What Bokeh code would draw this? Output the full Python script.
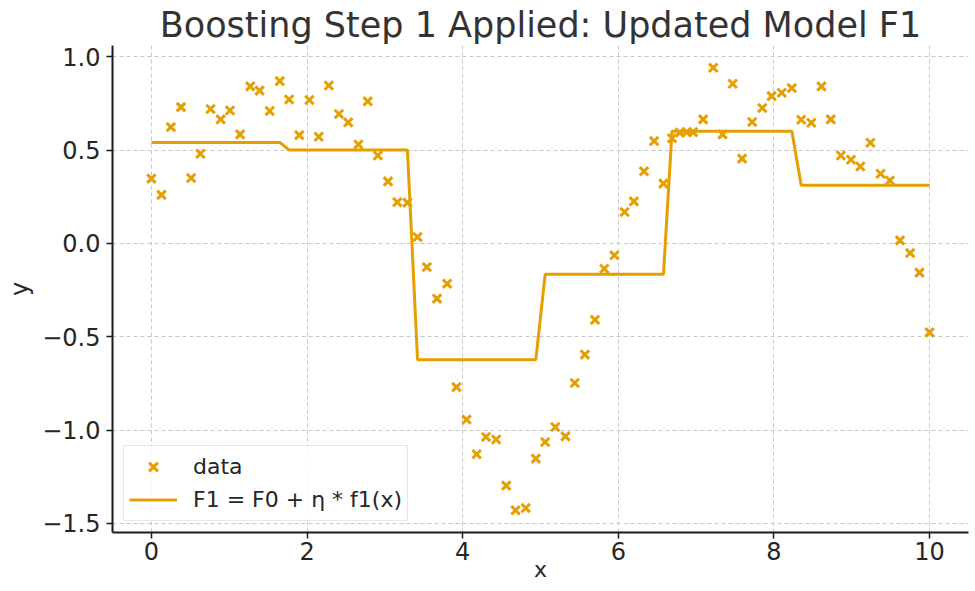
from bokeh.plotting import figure
from bokeh.models import Range1d, FixedTicker, Legend, LegendItem
from bokeh.embed import file_html
from bokeh.resources import INLINE

# ---- data ----
x_data = [0.00, 0.13, 0.25, 0.38, 0.51, 0.63, 0.76, 0.89, 1.01, 1.14,
          1.27, 1.39, 1.52, 1.65, 1.77, 1.90, 2.03, 2.15, 2.28, 2.41,
          2.53, 2.66, 2.78, 2.91, 3.04, 3.16, 3.29, 3.42, 3.54, 3.67,
          3.80, 3.92, 4.05, 4.18, 4.30, 4.43, 4.56, 4.68, 4.81, 4.94,
          5.06, 5.19, 5.32, 5.44, 5.57, 5.70, 5.82, 5.95, 6.08, 6.20,
          6.33, 6.46, 6.58, 6.69, 6.79, 6.88, 6.96, 7.09, 7.22, 7.34,
          7.47, 7.59, 7.72, 7.85, 7.97, 8.10, 8.23, 8.35, 8.48, 8.61,
          8.73, 8.86, 8.99, 9.11, 9.24, 9.37, 9.49, 9.62, 9.75, 9.87,
          10.00]
y_data = [0.347, 0.26, 0.623, 0.73, 0.35, 0.48, 0.72, 0.664, 0.712, 0.584,
          0.841, 0.818, 0.709, 0.869, 0.771, 0.58, 0.768, 0.571, 0.846, 0.693,
          0.648, 0.53, 0.761, 0.471, 0.332, 0.221, 0.218, 0.034, -0.127, -0.296,
          -0.216, -0.77, -0.944, -1.13, -1.037, -1.051, -1.298, -1.43, -1.418, -1.153,
          -1.064, -0.984, -1.034, -0.748, -0.596, -0.41, -0.136, -0.064, 0.168, 0.225,
          0.386, 0.548, 0.32, 0.563, 0.593, 0.596, 0.596, 0.664, 0.941, 0.584,
          0.855, 0.454, 0.65, 0.725, 0.789, 0.807, 0.832, 0.662, 0.646, 0.841,
          0.664, 0.471, 0.448, 0.412, 0.539, 0.373, 0.337, 0.016, -0.052, -0.157,
          -0.477]
f1_values = ([0.541] * 14 + [0.500] * 13 + [-0.623] * 13 + [-0.166] * 13
             + [0.601] * 14 + [0.311] * 14)

x_ticks = [0, 2, 4, 6, 8, 10]
y_ticks = [-1.5, -1.0, -0.5, 0.0, 0.5, 1.0]
y_tick_labels = ["\u22121.5", "\u22121.0", "\u22120.5", "0.0", "0.5", "1.0"]

title_text = "Boosting Step 1 Applied: Updated Model F1"
x_label = "x"
y_label = "y"
legend_labels = ["data", "F1 = F0 + \u03b7 * f1(x)"]

# ---- style ----
ORANGE = "#E69F00"
FONT = "DejaVu Sans"
TEXT = "#262626"

y_lo, y_hi = -1.549, 1.060
p = figure(width=975, height=591, output_backend="svg", toolbar_location=None,
           x_range=Range1d(-0.5, 10.5), y_range=Range1d(y_lo, y_hi),
           min_border_left=112, min_border_right=7, min_border_top=45,
           min_border_bottom=59)
p.outline_line_color = None
p.background_fill_color = "white"
p.border_fill_color = "white"

p.title.text = title_text
p.title.align = "center"
p.title.text_font = FONT
p.title.text_font_size = "35px"
p.title.text_font_style = "normal"
p.title.text_color = "#333333"
p.title.standoff = 2
p.title.offset = 0

for ax in (p.xaxis[0], p.yaxis[0]):
    ax.axis_line_color = "#1a1a1a"
    ax.axis_line_width = 2
    ax.major_tick_line_color = "#1a1a1a"
    ax.major_tick_line_width = 1.5
    ax.major_tick_out = 6
    ax.major_tick_in = 0
    ax.minor_tick_line_color = None
    ax.major_label_text_font = FONT
    ax.major_label_text_font_size = "24px"
    ax.major_label_text_color = TEXT
    ax.axis_label_text_font = FONT
    ax.axis_label_text_font_size = "24px"
    ax.axis_label_text_font_style = "normal"
    ax.axis_label_text_color = TEXT

p.xaxis[0].ticker = FixedTicker(ticks=x_ticks)
p.yaxis[0].ticker = FixedTicker(ticks=y_ticks)
p.yaxis[0].major_label_overrides = {t: s for t, s in zip(y_ticks, y_tick_labels)}
p.yaxis[0].axis_label = y_label
p.yaxis[0].major_label_standoff = 6
p.xaxis[0].axis_label = x_label
p.xaxis[0].major_label_standoff = 3
p.xaxis[0].axis_label_standoff = -6
p.xaxis[0].axis_label_text_font_size = "22px"

for g in (p.xgrid[0], p.ygrid[0]):
    g.grid_line_color = "#c8c8c8"
    g.grid_line_dash = "4 3"
    g.grid_line_width = 1
p.xgrid[0].ticker = FixedTicker(ticks=x_ticks)
p.ygrid[0].ticker = FixedTicker(ticks=y_ticks)

pts = p.scatter(x_data, y_data, marker="x", size=12, line_width=3,
                line_color=ORANGE)
ln = p.line(x_data, f1_values, line_color=ORANGE, line_width=3)

legend = Legend(items=[LegendItem(label=legend_labels[0], renderers=[pts]),
                       LegendItem(label=legend_labels[1], renderers=[ln])],
                location="bottom_left")
legend.label_text_font = FONT
legend.label_text_font_size = "22px"
legend.label_text_color = TEXT
legend.glyph_width = 48
legend.glyph_height = 31
legend.label_height = 31
legend.label_standoff = 16
legend.spacing = 2
legend.padding = 5
legend.margin = 11
legend.border_line_color = "#d0d0d0"
legend.border_line_width = 1.5
legend.background_fill_color = "white"
legend.background_fill_alpha = 0.85
p.add_layout(legend)

open("out.html", "w").write(file_html(p, INLINE))
